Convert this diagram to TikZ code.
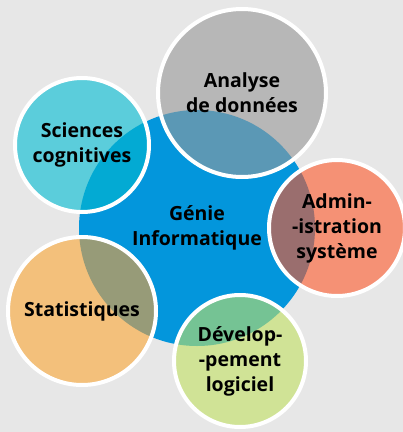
\documentclass[tikz,border=0pt]{standalone}
\usepackage{fontspec}
\setmainfont{Open Sans}
\usepackage{tikz}

\definecolor{bgcol}{HTML}{E7E7E7}
\definecolor{gicol}{HTML}{0396DC}
\definecolor{anacol}{HTML}{B7B7B7}
\definecolor{anamix}{HTML}{5B98B5}
\definecolor{scicol}{HTML}{5BCDDB}
\definecolor{scimix}{HTML}{03AAD3}
\definecolor{admcol}{HTML}{F59175}
\definecolor{admmix}{HTML}{9A6E6E}
\definecolor{stacol}{HTML}{F3C07B}
\definecolor{stamix}{HTML}{979B78}
\definecolor{devcol}{HTML}{D0E396}
\definecolor{devmix}{HTML}{75C394}

\begin{document}
\begin{tikzpicture}[x=1pt,y=-1pt,
  lbl/.style={font=\bfseries\fontsize{19.5}{25}\selectfont, align=center, text=black},
  ring/.style={draw=white, line width=4pt}]
  \fill[bgcol] (0,0) rectangle (403,432);
  \useasboundingbox (0,0) rectangle (403,432);

  \coordinate (gi)  at (197,228);
  \coordinate (ana) at (242,93);
  \coordinate (sci) at (82,145);
  \coordinate (adm) at (337,228);
  \coordinate (sta) at (82,311);
  \coordinate (dev) at (240,361);

  \fill[gicol] (gi) circle[radius=118pt];
  % outer circles, then their part over the centre
  \foreach \c/\r in {ana/84,sci/67,adm/68,sta/74,dev/66} {
    \fill[\c col] (\c) circle[radius=\r pt];
    \begin{scope}
      \clip (gi) circle[radius=118pt];
      \fill[\c mix] (\c) circle[radius=\r pt];
    \end{scope}
  }
  \foreach \c/\r in {ana/84,sci/67,adm/68,sta/74,dev/66}
    \path[ring] (\c) circle[radius=\r pt];

  \node[lbl] (gi-t)  at (gi)  {Génie\\Informatique};
  \node[lbl] (ana-t) at (ana) {Analyse\\de données};
  \node[lbl] (sci-t) at (sci) {Sciences\\cognitives};
  \node[lbl] (adm-t) at (adm) {Admin-\\-istration\\système};
  \node[lbl] (sta-t) at (sta) {Statistiques};
  \node[lbl] (dev-t) at (dev) {Dévelop-\\-pement\\logiciel};
\end{tikzpicture}
\end{document}
